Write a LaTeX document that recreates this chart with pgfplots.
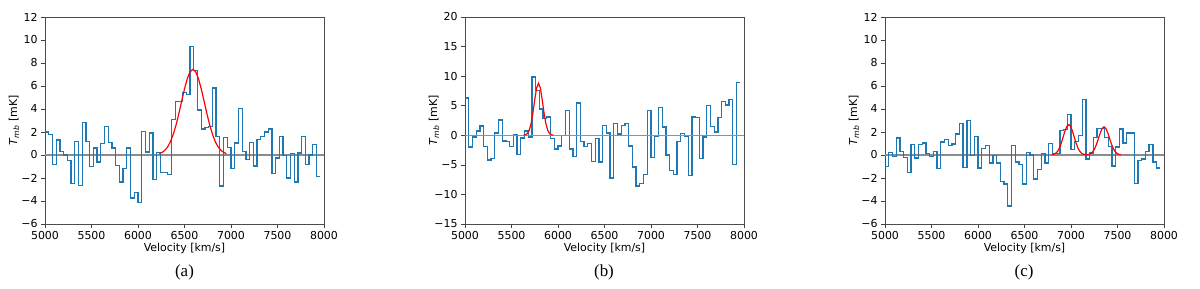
\documentclass[border=0pt]{standalone}
\usepackage{fontspec}
\setmainfont{DejaVu Sans}
\newfontfamily\capfont{Liberation Serif}
\usepackage{pgfplots}
\usepackage{pgfplotstable}
\pgfplotsset{compat=1.18}
\definecolor{mplblue}{HTML}{1F77B4}
\definecolor{zerog}{HTML}{8C8C8C}
\definecolor{zerob}{HTML}{B98080}

\pgfplotstableread{
v a b c
5000 2.0 6.3 -1.0
5040 1.8 -1.97 0.23
5080 -0.85 -0.28 -0.15
5120 1.3 0.73 1.48
5160 0.3 1.58 0.32
5200 0.0 -1.86 -0.2
5240 -0.45 -4.2 -1.5
5280 -2.45 -3.94 0.9
5320 1.15 0.4 -0.26
5360 -2.65 2.6 0.93
5400 2.8 -0.96 1.05
5440 1.15 -1.1 0.15
5480 -1.0 -1.86 -0.15
5520 0.6 0.1 0.32
5560 -0.6 -3.2 -1.17
5600 1.0 -0.45 1.14
5640 2.45 0.73 1.34
5680 1.1 -0.28 0.82
5720 0.6 9.85 0.96
5760 -0.9 7.6 1.83
5800 -2.35 4.45 2.74
5840 -1.2 2.8 -1.08
5880 0.6 3.1 3.03
5920 -3.75 -0.6 -0.06
5960 -3.25 -2.3 1.6
6000 -4.15 -1.8 -1.14
6040 2.05 0.0 0.55
6080 0.25 4.2 0.82
6120 1.9 -2.3 -0.7
6160 -2.15 -3.55 -0.06
6200 0.2 5.45 -0.7
6240 -1.5 -1.0 -2.33
6280 -1.55 -1.85 -2.53
6320 -1.7 -1.4 -4.43
6360 3.1 -4.4 0.8
6400 4.65 -0.55 -0.6
6440 4.65 -4.5 -0.8
6480 5.45 1.6 -2.53
6520 5.25 0.4 0.2
6560 9.45 -7.2 0.0
6600 7.37 2.0 -2.1
6640 3.9 0.2 -1.25
6680 2.27 1.6 0.15
6720 2.4 2.05 -0.7
6760 2.45 -1.8 1.0
6800 5.83 -5.35 0.1
6840 1.6 -8.55 0.1
6880 -2.7 -8.2 2.15
6920 1.55 -6.6 2.2
6960 0.67 4.2 3.5
7000 -1.15 -3.77 0.5
7040 1.05 -0.17 1.2
7080 4.05 4.67 1.7
7120 0.3 1.4 4.83
7160 -0.4 -3.35 -0.35
7200 1.1 -5.9 0.17
7240 -0.95 -6.6 1.55
7280 1.35 -1.1 2.3
7320 1.6 0.28 2.3
7360 2.0 -0.1 1.55
7400 2.27 -6.75 0.72
7440 -1.6 3.1 -0.95
7480 -0.26 3.0 0.7
7520 1.63 -3.94 2.25
7560 -0.05 -0.28 1.05
7600 -2.0 5.0 1.92
7640 0.1 1.5 1.9
7680 -2.35 0.56 -2.47
7720 0.17 3.04 -0.47
7760 1.63 5.74 -0.35
7800 -0.8 5.1 0.32
7840 0.0 6.0 0.93
7880 0.9 -4.9 -0.6
7920 -1.9 8.95 -1.12
7960 -1.9 8.95 -1.12
}\spectab

\pgfplotsset{
  spec/.style={
    scale only axis, width=279bp, height=207bp,
    anchor=south west,
    xmin=5000, xmax=8000,
    xtick={5000,5500,6000,6500,7000,7500,8000},
    xticklabels={5000,5500,6000,6500,7000,7500,8000},
    scaled ticks=false,
    tick align=outside, xtick pos=left, ytick pos=left,
    major tick length=4bp,
    tick style={black!75, line width=0.6bp},
    axis line style={black!70, line width=0.7bp},
    ticklabel style={font=\fontsize{11}{13}\selectfont},
    xlabel={Velocity [km/s]},
    ylabel={\textit{T}\textsubscript{\textit{mb}} [mK]},
    label style={font=\fontsize{11}{13}\selectfont},
    xlabel style={at={(axis description cs:0.5,0)}, anchor=center, yshift=-24bp},
    ylabel style={at={(axis description cs:0,0.5)}, anchor=center, rotate=0, yshift=31bp},
  },
  smallrange/.style={ymin=-6, ymax=12, ytick={-6,-4,-2,0,2,4,6,8,10,12},
    yticklabels={−6,−4,−2,0,2,4,6,8,10,12}},
}

\begin{document}
\begin{tikzpicture}
\useasboundingbox (0,0) rectangle (1200bp,289bp);

% (a)
\begin{axis}[spec, smallrange, at={(45bp,65bp)}]
\addplot[zerog, line width=1.4bp] coordinates {(5000,0) (8000,0)};
\addplot[mplblue, line width=1.3bp, const plot, mark=none] table[x=v, y=a] {\spectab};
\addplot[red, line width=1.2bp, mark=none] coordinates {
(6230,0.12)(6260,0.23)(6290,0.42)(6320,0.72)(6350,1.18)(6380,1.82)(6410,2.64)(6440,3.63)(6470,4.70)(6500,5.75)(6530,6.64)(6560,7.24)(6590,7.45)(6620,7.24)(6650,6.64)(6680,5.75)(6710,4.70)(6740,3.63)(6770,2.64)(6800,1.82)(6830,1.18)(6860,0.72)(6890,0.42)(6920,0.23)(6950,0.12)};
\end{axis}

% (b)
\begin{axis}[spec, at={(465bp,65bp)}, ymin=-15, ymax=20,
  ytick={-15,-10,-5,0,5,10,15,20},
  yticklabels={−15,−10,−5,0,5,10,15,20}]
\addplot[mplblue, line width=1.3bp, const plot, mark=none] table[x=v, y=b] {\spectab};
\addplot[zerob, line width=1.4bp] coordinates {(5000,0) (8000,0)};
\addplot[red, line width=1.2bp, mark=none] coordinates {
(5630,0.021)(5650,0.086)(5670,0.29)(5690,0.83)(5710,1.94)(5730,3.76)(5750,6.03)(5770,8.01)(5790,8.8)(5810,8.01)(5830,6.03)(5850,3.76)(5870,1.94)(5890,0.83)(5910,0.29)(5930,0.086)(5950,0.021)};
\end{axis}

% (c)
\begin{axis}[spec, smallrange, at={(885bp,65bp)}]
\addplot[zerog, line width=1.4bp] coordinates {(5000,0) (8000,0)};
\addplot[mplblue, line width=1.3bp, const plot, mark=none] table[x=v, y=c] {\spectab};
\addplot[red, line width=1.2bp, mark=none] coordinates {
(6795,0.021)(6815,0.059)(6835,0.144)(6855,0.312)(6875,0.600)(6895,1.023)(6915,1.552)(6935,2.088)(6955,2.496)(6975,2.65)(6995,2.496)(7015,2.088)(7035,1.552)(7055,1.023)(7075,0.600)(7095,0.312)(7115,0.144)(7135,0.061)(7155,0.027)(7175,0.027)(7195,0.057)(7215,0.133)(7235,0.288)(7255,0.554)(7275,0.946)(7295,1.435)(7315,1.931)(7335,2.308)(7355,2.45)(7375,2.308)(7395,1.931)(7415,1.435)(7435,0.946)(7455,0.554)(7475,0.288)(7495,0.133)(7515,0.057)(7535,0.020)};
\end{axis}

\node[font=\capfont\fontsize{17}{20}\selectfont] at (184.5bp,17bp) {(a)};
\node[font=\capfont\fontsize{17}{20}\selectfont] at (604bp,17bp) {(b)};
\node[font=\capfont\fontsize{17}{20}\selectfont] at (1024bp,17bp) {(c)};
\end{tikzpicture}
\end{document}
